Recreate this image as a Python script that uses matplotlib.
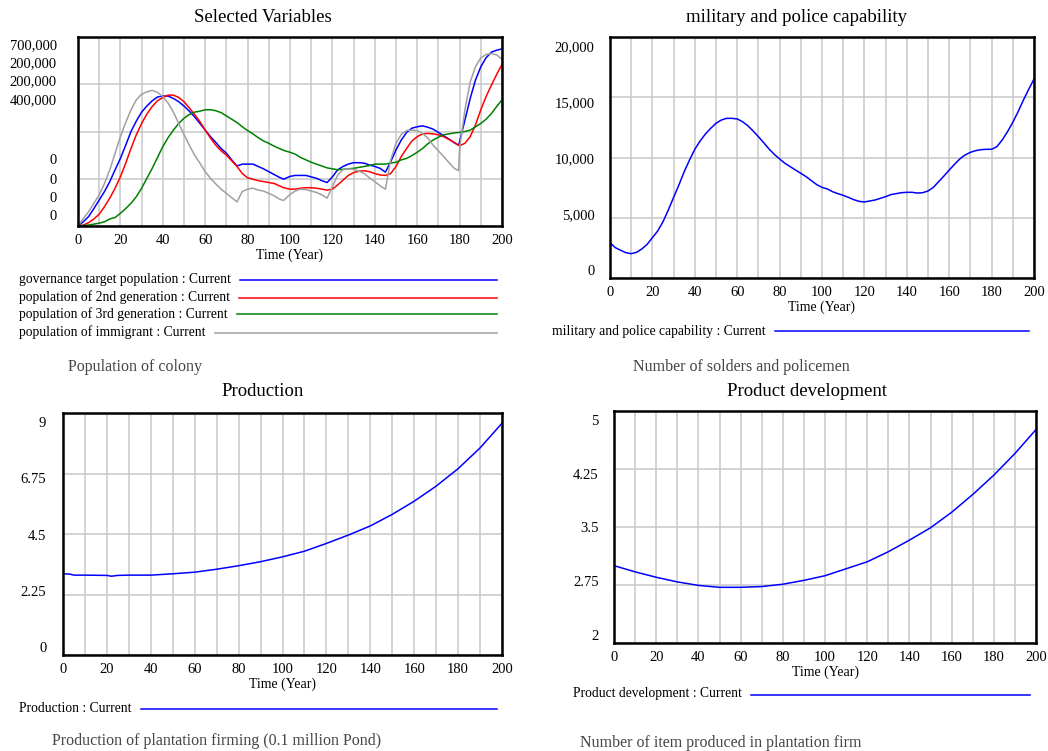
import matplotlib
matplotlib.use("Agg")
import matplotlib.pyplot as plt
import matplotlib.transforms as mtransforms
from matplotlib.lines import Line2D

plt.rcParams['font.family'] = ['Liberation Serif', 'DejaVu Serif']

W, H = 1048, 751

# ---------------- data ----------------
# Selected Variables (values in plot-grid units, 0..4)
t_pop = [0, 2.5, 5, 7.5, 10, 12.5, 15, 17.5, 20, 22.5, 25, 27.5, 30, 32.5, 35, 37.5, 40, 42.5,
         45, 47.5, 50, 52.5, 55, 57.5, 60, 62.5, 65, 67.5, 70, 72.5, 75, 77.5, 80, 82.5, 85,
         87.5, 90, 92.5, 95, 97,
         100, 102.5, 105, 107.5, 110, 112.5, 115, 117.5, 120, 122.5, 125, 127.5, 130, 132.5,
         135, 137.5, 140, 142.5, 145, 147.5, 150, 152.5, 155, 157.5, 160, 162.5, 165, 167.5,
         170, 172.5, 175, 177.5, 179.5,
         180, 182.5, 185, 187.5, 190, 192.5, 195, 197.5, 200]
governance_target = [0, 0.09, 0.20, 0.37, 0.55, 0.73, 0.94, 1.19, 1.43, 1.71, 2.00, 2.22, 2.41,
                     2.54, 2.65, 2.73, 2.75, 2.75, 2.70, 2.63, 2.54, 2.43, 2.31, 2.17, 2.03, 1.89,
                     1.77, 1.64, 1.54, 1.40, 1.27, 1.31, 1.31, 1.31, 1.26, 1.21, 1.15, 1.09, 1.03,
                     0.99,
                     1.05, 1.07, 1.07, 1.07, 1.04, 1.01, 0.96, 0.92, 1.04, 1.19, 1.26, 1.31, 1.34,
                     1.34, 1.33, 1.29, 1.26, 1.22, 1.14, 1.36, 1.61, 1.82, 1.98, 2.07, 2.10, 2.12,
                     2.09, 2.05, 1.98, 1.91, 1.84, 1.76, 1.71,
                     1.78, 2.24, 2.70, 3.09, 3.37, 3.56, 3.68, 3.72, 3.75]
second_generation = [0, 0.02, 0.07, 0.15, 0.25, 0.41, 0.59, 0.80, 1.04, 1.33, 1.64, 1.93, 2.17,
                     2.37, 2.53, 2.65, 2.72, 2.77, 2.77, 2.72, 2.63, 2.50, 2.36, 2.21, 2.03, 1.86,
                     1.71, 1.59, 1.50, 1.38, 1.26, 1.11, 1.02, 0.99, 0.96, 0.94, 0.92, 0.90, 0.85,
                     0.81,
                     0.78, 0.78, 0.80, 0.81, 0.81, 0.80, 0.78, 0.76, 0.78, 0.87, 0.97, 1.07, 1.13,
                     1.16, 1.17, 1.15, 1.11, 1.08, 1.07, 1.11, 1.26, 1.47, 1.64, 1.80, 1.89, 1.95,
                     1.96, 1.95, 1.93, 1.89, 1.83, 1.77, 1.71,
                     1.70, 1.75, 1.89, 2.14, 2.46, 2.74, 2.98, 3.21, 3.42]
third_generation = [0, 0.01, 0.02, 0.04, 0.06, 0.09, 0.15, 0.18, 0.27, 0.37, 0.48, 0.62, 0.80,
                    1.01, 1.22, 1.45, 1.68, 1.87, 2.03, 2.17, 2.28, 2.36, 2.41, 2.43, 2.46, 2.46,
                    2.44, 2.40, 2.33, 2.26, 2.19, 2.10, 2.02, 1.95, 1.87, 1.80, 1.75, 1.69, 1.64,
                    1.60,
                    1.56, 1.52, 1.45, 1.40, 1.35, 1.31, 1.27, 1.23, 1.21, 1.19, 1.20, 1.21, 1.22,
                    1.24, 1.26, 1.28, 1.31, 1.31, 1.31, 1.33, 1.35, 1.40, 1.43, 1.49, 1.56, 1.64,
                    1.74, 1.82, 1.88, 1.93, 1.95, 1.97, 1.98,
                    1.98, 2.00, 2.03, 2.10, 2.17, 2.26, 2.38, 2.53, 2.67]
immigrant = [0, 0.16, 0.30, 0.48, 0.66, 0.90, 1.19, 1.54, 1.89, 2.19, 2.46, 2.67, 2.79, 2.84,
             2.87, 2.83, 2.74, 2.60, 2.41, 2.17, 1.94, 1.71, 1.50, 1.33, 1.15, 1.01, 0.89, 0.78,
             0.69, 0.60, 0.51, 0.73, 0.78, 0.80, 0.76, 0.74, 0.69, 0.64, 0.57,
             0.54,
             0.67, 0.74, 0.78, 0.77, 0.74, 0.71, 0.66, 0.59, 0.83, 1.08, 1.19, 1.21, 1.20, 1.16,
             1.11, 1.02, 0.94, 0.85, 0.78, 1.40, 1.75, 1.94, 2.02, 2.03, 2.02, 1.96, 1.86, 1.71,
             1.59, 1.47, 1.34, 1.22, 1.17,
             1.64, 2.46, 3.05, 3.37, 3.56, 3.63, 3.65, 3.62, 3.53]
pop_scale_labels = ["700,000", "200,000", "200,000", "400,000", "0", "0", "0", "0"]

# military and police capability
t_mil = [i * 2.5 for i in range(81)]
military = [2930, 2520, 2300, 2100, 2020, 2130, 2410, 2790, 3350, 3900, 4670, 5640, 6690, 7720,
            8820, 9790, 10680, 11370, 11950, 12420, 12840, 13110, 13250, 13250, 13200, 12970,
            12640, 12200, 11730, 11230, 10710, 10260, 9880, 9520, 9240, 8960, 8690, 8410, 8080,
            7750, 7520,
            7390, 7160, 7000, 6860, 6690, 6500, 6360, 6310, 6390, 6470, 6610, 6750, 6920, 7000,
            7080, 7110, 7110, 7050, 7080, 7220, 7520, 7990, 8460, 8960, 9430, 9880, 10210,
            10430, 10570, 10650, 10680, 10680, 10900, 11450, 12140, 12920, 13800, 14770, 15660,
            16510]

# Production
t_prod = [0, 3, 5, 10, 20, 22, 25, 30, 40, 50, 60, 70, 80, 90, 100, 110, 120, 130, 140, 150,
          160, 170, 180, 190, 200]
production = [3.02, 3.01, 2.97, 2.97, 2.96, 2.93, 2.96, 2.97, 2.97, 3.02, 3.08, 3.19, 3.32, 3.47,
              3.65, 3.86, 4.15, 4.46, 4.80, 5.23, 5.72, 6.28, 6.93, 7.70, 8.62]

# Product development
t_dev = list(range(0, 201, 10))
product_dev = [3.00, 2.92, 2.85, 2.79, 2.745, 2.72, 2.72, 2.73, 2.76, 2.81, 2.87, 2.96, 3.05,
               3.18, 3.33, 3.49, 3.69, 3.92, 4.17, 4.45, 4.76]

x_ticks = list(range(0, 201, 20))

# ---------------- figure ----------------
fig = plt.figure(figsize=(W / 100, H / 100), dpi=100)


def px_axes(x0, y0, x1, y1):
    return fig.add_axes([x0 / W, 1 - y1 / H, (x1 - x0) / W, (y1 - y0) / H])


GRID = '#c8c8c8'
TICK_FS = 10.5
LW = 1.1


def style(ax, ymin, ymax, yticks, ylabels, gap):
    ax.set_xlim(0, 200)
    ax.set_ylim(ymin, ymax)
    ax.set_xticks(x_ticks)
    ax.set_xticks(range(0, 201, 10), minor=True)
    ax.set_yticks(yticks)
    ax.set_yticklabels(ylabels)
    ax.tick_params(which='both', length=0, labelsize=TICK_FS, pad=6)
    ax.tick_params(axis='y', pad=gap)
    ax.grid(True, which='both', axis='x', color=GRID, lw=1.1)
    ax.grid(True, which='major', axis='y', color=GRID, lw=1.1)
    for s in ax.spines.values():
        s.set_linewidth(1.8)
        s.set_color('black')
    ax.set_axisbelow(True)
    ax.set_xlabel("Time (Year)", fontsize=10, labelpad=1)


def spread_ylabels(ax, n_px_height):
    labels = ax.get_yticklabels()
    ticks = ax.get_yticks()
    ymin, ymax = ax.get_ylim()
    n = len(ticks)
    for i, (lab, tv) in enumerate(zip(labels, ticks)):
        grid_px = (tv - ymin) / (ymax - ymin) * n_px_height   # from bottom
        want_px = 8 + i * (n_px_height - 17) / (n - 1)
        dy = (want_px - grid_px) / 100.0
        lab.set_transform(lab.get_transform() + mtransforms.ScaledTranslation(0, dy, fig.dpi_scale_trans))


# ---- top-left ----
ax1 = px_axes(78, 37, 502, 226)
ax1.plot(t_pop, governance_target, color='#0000ff', lw=LW)
ax1.plot(t_pop, second_generation, color='#ff0000', lw=LW)
ax1.plot(t_pop, third_generation, color='#008000', lw=LW)
ax1.plot(t_pop, immigrant, color='#a0a0a0', lw=LW)
style(ax1, 0, 4, [0, 1, 2, 3, 4], ['', '', '', '', ''], 6)
label_ys = [46, 64, 82, 101, 161, 180, 198, 216]
for lab, yy in zip(pop_scale_labels, label_ys):
    fig.text(57 / W, 1 - yy / H, lab, ha='right', va='center', fontsize=TICK_FS)

# ---- top-right ----
ax2 = px_axes(610, 37, 1034, 278)
ax2.plot(t_mil, military, color='#0000ff', lw=LW)
style(ax2, 0, 20000, [0, 5000, 10000, 15000, 20000], ['0', '5,000', '10,000', '15,000', '20,000'], 11)
spread_ylabels(ax2, 241)

# ---- bottom-left ----
ax3 = px_axes(63, 413, 502, 655)
ax3.plot(t_prod, production, color='#0000ff', lw=LW)
style(ax3, 0, 9, [0, 2.25, 4.5, 6.75, 9], ['0', '2.25', '4.5', '6.75', '9'], 12)
spread_ylabels(ax3, 242)

# ---- bottom-right ----
ax4 = px_axes(614, 411, 1036, 643)
ax4.plot(t_dev, product_dev, color='#0000ff', lw=LW)
style(ax4, 2, 5, [2, 2.75, 3.5, 4.25, 5], ['2', '2.75', '3.5', '4.25', '5'], 11)
spread_ylabels(ax4, 232)

# titles
TITLE_FS = 13.5
fig.text(263 / W, 1 - 17 / H, "Selected Variables", ha='center', va='center', fontsize=TITLE_FS)
fig.text(797 / W, 1 - 17 / H, "military and police capability", ha='center', va='center', fontsize=TITLE_FS)
fig.text(263 / W, 1 - 392 / H, "Production", ha='center', va='center', fontsize=TITLE_FS)
fig.text(807 / W, 1 - 392 / H, "Product development", ha='center', va='center', fontsize=TITLE_FS)

# legends
fig.canvas.draw()
renderer = fig.canvas.get_renderer()


def legend_row(x_text, y, text, color, x_end):
    t = fig.text(x_text / W, 1 - y / H, text, ha='left', va='center', fontsize=9.8)
    bb = t.get_window_extent(renderer)
    x0 = bb.x1 + 9
    fig.add_artist(Line2D([x0 / W, x_end / W], [1 - (y + 0.5) / H, 1 - (y + 0.5) / H],
                          transform=fig.transFigure, color=color, lw=1.1))


legend_rows_tl = [("governance target population : Current", '#0000ff', 279),
                  ("population of 2nd generation : Current", '#ff0000', 297),
                  ("population of 3rd generation : Current", '#008000', 314),
                  ("population of immigrant : Current", '#a0a0a0', 332)]
for txt, col, yy in legend_rows_tl:
    legend_row(19, yy, txt, col, 497)
legend_row(552, 331, "military and police capability : Current", '#0000ff', 1029)
legend_row(19, 708, "Production : Current", '#0000ff', 497)
legend_row(573, 694, "Product development : Current", '#0000ff', 1030)

# captions
CAP_COL = '#454545'
CAP_FS = 11.5
fig.text(68 / W, 1 - 367 / H, "Population of colony", ha='left', va='center', fontsize=CAP_FS, color=CAP_COL)
fig.text(633 / W, 1 - 367 / H, "Number of solders and policemen", ha='left', va='center', fontsize=CAP_FS, color=CAP_COL)
fig.text(52 / W, 1 - 741 / H, "Production of plantation firming (0.1 million Pond)", ha='left', va='center', fontsize=CAP_FS, color=CAP_COL)
fig.text(580 / W, 1 - 743 / H, "Number of item produced in plantation firm", ha='left', va='center', fontsize=CAP_FS, color=CAP_COL)

fig.savefig("out.png", dpi=100)
